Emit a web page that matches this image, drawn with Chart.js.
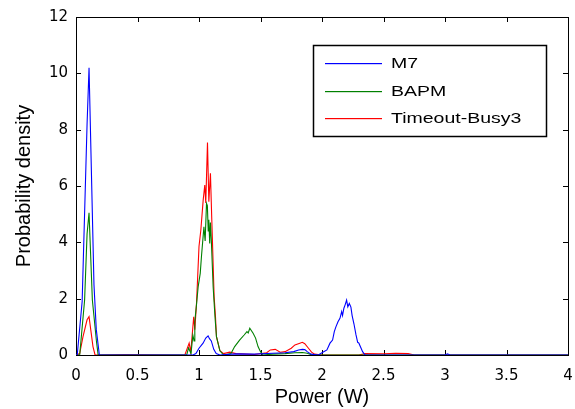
<!DOCTYPE html>
<html>
<head>
<meta charset="utf-8">
<script src="https://cdn.jsdelivr.net/npm/chart.js@4"></script>
<style>
  html, body { margin: 0; padding: 0; background: #fff; }
  #wrap { width: 575px; height: 409px; }
</style>
</head>
<body>
<div id="wrap"><canvas id="densityChart"></canvas></div>
<script>
// values (power in W, probability density)
const m7Power = [0, 0.01, 0.05, 0.09, 0.106, 0.146, 0.165, 0.19, 0.95, 0.975, 1.0, 1.033, 1.055, 1.074, 1.085, 1.1, 1.12, 1.14, 1.17, 1.3, 1.45, 1.6, 1.7, 1.77, 1.81, 1.84, 1.86, 1.88, 1.91, 1.97, 2.0, 2.04, 2.065, 2.086, 2.1, 2.113, 2.13, 2.146, 2.16, 2.167, 2.178, 2.188, 2.2, 2.21, 2.222, 2.235, 2.245, 2.26, 2.276, 2.29, 2.3, 2.33, 2.35, 3.0, 3.02, 3.04, 4.0];
const m7Density = [0, 0, 1.9, 8.2, 10.2, 2.5, 0.9, 0, 0, 0.05, 0.24, 0.42, 0.6, 0.68, 0.58, 0.5, 0.2, 0.05, 0, 0.04, 0.03, 0.06, 0.08, 0.12, 0.18, 0.2, 0.19, 0.12, 0.03, 0, 0.08, 0.18, 0.42, 0.53, 0.83, 1.0, 1.18, 1.3, 1.54, 1.4, 1.66, 1.78, 1.95, 1.71, 1.83, 1.7, 1.4, 1.1, 0.72, 0.45, 0.42, 0.12, 0, 0, 0.04, 0, 0];

const bapmPower = [0, 0.03, 0.07, 0.09, 0.106, 0.133, 0.166, 0.18, 0.9, 0.915, 0.935, 0.95, 0.96, 0.966, 0.98, 0.993, 1.01, 1.02, 1.04, 1.05, 1.061, 1.068, 1.075, 1.08, 1.087, 1.093, 1.1, 1.115, 1.13, 1.142, 1.17, 1.2, 1.26, 1.29, 1.33, 1.367, 1.39, 1.4, 1.413, 1.44, 1.46, 1.48, 1.5, 1.52, 1.6, 1.7, 1.78, 1.84, 1.88, 1.92, 4.0];
const bapmDensity = [0, 0, 1.95, 4.3, 5.05, 1.95, 0.5, 0, 0, 0.25, 0.05, 0.7, 0.5, 1.2, 1.8, 2.42, 2.9, 3.5, 4.55, 4.05, 5.38, 5.3, 4.4, 4.8, 3.96, 4.7, 4.1, 2.42, 1.36, 0.65, 0.15, 0, 0.05, 0.3, 0.53, 0.71, 0.83, 0.78, 0.95, 0.77, 0.6, 0.3, 0.12, 0, 0.03, 0.05, 0.08, 0.09, 0.06, 0, 0];

const timeoutPower = [0, 0.03, 0.057, 0.09, 0.106, 0.138, 0.155, 0.4, 0.6, 0.85, 0.885, 0.92, 0.933, 0.957, 0.966, 0.98, 1.0, 1.015, 1.034, 1.047, 1.055, 1.069, 1.08, 1.093, 1.104, 1.123, 1.134, 1.142, 1.17, 1.2, 1.25, 1.3, 1.45, 1.55, 1.58, 1.62, 1.66, 1.7, 1.75, 1.78, 1.82, 1.84, 1.86, 1.89, 1.915, 1.94, 2.0, 2.3, 2.35, 2.5, 2.6, 2.7, 2.75, 4.0];
const timeoutDensity = [0, 0.05, 0.65, 1.25, 1.36, 0.3, 0, 0.02, 0.01, 0, 0, 0.42, 0.1, 1.36, 0.9, 1.85, 3.85, 4.44, 5.5, 6.03, 5.4, 7.54, 5.44, 6.45, 4.8, 2.07, 1.36, 0.65, 0.15, 0.05, 0.1, 0.05, 0.02, 0.08, 0.18, 0.2, 0.1, 0.12, 0.24, 0.36, 0.42, 0.45, 0.4, 0.24, 0.1, 0.03, 0, 0, 0.05, 0.04, 0.06, 0.05, 0, 0];

const seriesNames = ['M7', 'BAPM', 'Timeout-Busy3'];
const seriesColors = ['#0000ff', '#008000', '#ff0000'];
const xTicks = [0, 0.5, 1, 1.5, 2, 2.5, 3, 3.5, 4];
const yTicks = [0, 2, 4, 6, 8, 10, 12];

function toPoints(xs, ys) {
  return xs.map((x, i) => ({ x: x, y: ys[i] }));
}

// matlab style box with inward ticks, drawn under the lines
const boxPlugin = {
  id: 'boxTicks',
  beforeDatasetsDraw(chart) {
    const { ctx, chartArea: a, scales } = chart;
    ctx.save();
    ctx.strokeStyle = '#000';
    ctx.lineWidth = 1;
    ctx.beginPath();
    xTicks.forEach(v => {
      const px = Math.round(scales.x.getPixelForValue(v)) + 0.5;
      ctx.moveTo(px, a.bottom); ctx.lineTo(px, a.bottom - 5);
      ctx.moveTo(px, a.top); ctx.lineTo(px, a.top + 5);
    });
    yTicks.forEach(v => {
      const py = Math.round(scales.y.getPixelForValue(v)) + 0.5;
      ctx.moveTo(a.left, py); ctx.lineTo(a.left + 5, py);
      ctx.moveTo(a.right, py); ctx.lineTo(a.right - 5, py);
    });
    ctx.stroke();
    ctx.strokeRect(Math.round(a.left) + 0.5, Math.round(a.top) + 0.5,
      Math.round(a.right - a.left), Math.round(a.bottom - a.top));
    ctx.restore();
  }
};

// boxed legend inside the axes, top right
const legendPlugin = {
  id: 'boxLegend',
  afterDraw(chart) {
    const ctx = chart.ctx;
    const bx = 313, by = 45, bw = 233, bh = 91;
    const rows = [63, 91, 118];
    ctx.save();
    ctx.fillStyle = '#fff';
    ctx.fillRect(bx, by, bw, bh);
    ctx.strokeStyle = '#000';
    ctx.lineWidth = 1.5;
    ctx.strokeRect(bx + 0.5, by + 0.5, bw, bh);
    seriesNames.forEach((name, i) => {
      ctx.fillStyle = seriesColors[i];
      ctx.fillRect(325, rows[i], 57, 1.2);
      ctx.save();
      ctx.translate(391, rows[i]);
      ctx.scale(1.3, 1);
      ctx.fillStyle = '#000';
      ctx.font = '15px "Liberation Sans", Arial, sans-serif';
      ctx.textBaseline = 'middle';
      ctx.fillText(name, 0, 1);
      ctx.restore();
    });
    ctx.restore();
  }
};

const ctx = document.getElementById('densityChart').getContext('2d');
new Chart(ctx, {
  type: 'scatter',
  data: {
    datasets: [
      { label: seriesNames[0], data: toPoints(m7Power, m7Density), borderColor: seriesColors[0] },
      { label: seriesNames[1], data: toPoints(bapmPower, bapmDensity), borderColor: seriesColors[1] },
      { label: seriesNames[2], data: toPoints(timeoutPower, timeoutDensity), borderColor: seriesColors[2] }
    ].map(d => Object.assign(d, {
      showLine: true, borderWidth: 1.1, pointRadius: 0, tension: 0, fill: false
    }))
  },
  options: {
    responsive: true,
    maintainAspectRatio: false,
    animation: false,
    layout: { padding: { top: 17, right: 7, left: 0, bottom: 0 } },
    plugins: { legend: { display: false }, tooltip: { enabled: false } },
    scales: {
      x: {
        type: 'linear',
        min: 0, max: 4,
        afterFit(scale) {
          scale.height = 54;
          scale.paddingLeft = 0;
          scale.paddingRight = 0;
        },
        afterBuildTicks(scale) { scale.ticks = xTicks.map(v => ({ value: v })); },
        grid: { display: false, drawTicks: false },
        border: { display: false },
        ticks: {
          color: '#000', padding: 12, maxRotation: 0,
          callback: v => String(v),
          font: { family: '"DejaVu Sans", sans-serif', size: 15 }
        },
        title: {
          display: true, text: 'Power (W)', color: '#000',
          padding: { top: 1, bottom: 0 },
          font: { family: '"Liberation Sans", Arial, sans-serif', size: 20 }
        }
      },
      y: {
        min: 0, max: 12,
        afterFit(scale) { scale.width = 76; },
        afterBuildTicks(scale) { scale.ticks = yTicks.map(v => ({ value: v })); },
        grid: { display: false, drawTicks: false },
        border: { display: false },
        ticks: {
          color: '#000', padding: 8,
          callback: v => String(v),
          font: { family: '"DejaVu Sans", sans-serif', size: 15 }
        },
        title: {
          display: true, text: 'Probability density', color: '#000',
          padding: { top: 12, bottom: 0 },
          font: { family: '"Liberation Sans", Arial, sans-serif', size: 20 }
        }
      }
    }
  },
  plugins: [boxPlugin, legendPlugin]
});
</script>
</body>
</html>
